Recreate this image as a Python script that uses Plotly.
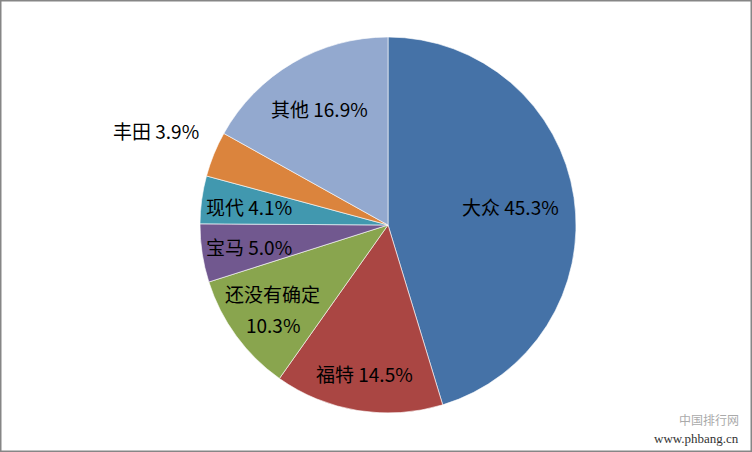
import math
import plotly.graph_objects as go

labels = ["大众", "福特", "还没有确定", "宝马", "现代", "丰田", "其他"]
values = [45.3, 14.5, 10.3, 5.0, 4.1, 3.9, 16.9]
colors = ["#4572A7", "#AA4643", "#89A54E", "#71588F", "#4198AF", "#DB843D", "#93A9CF"]
label_texts = ["大众 45.3%", "福特 14.5%", "还没有确定<br>10.3%", "宝马 5.0%", "现代 4.1%", "丰田 3.9%", "其他 16.9%"]
label_radius = [0.66, 0.80, 0.76, 0.75, 0.745, 1.33, 0.72]

W, H = 752, 452
cx, cy, R = 388, 225, 188  # pixels, from top-left
LINE_GAP = 31

fig = go.Figure(go.Pie(
    labels=labels, values=values, sort=False, direction="clockwise", rotation=0,
    marker=dict(colors=colors, line=dict(color="rgba(255,255,255,0.6)", width=1)),
    textinfo="none", hoverinfo="label+percent", showlegend=False,
    domain=dict(x=[(cx - R) / W, (cx + R) / W], y=[(H - cy - R) / H, (H - cy + R) / H]),
))

total = sum(values)
cum = 0
for txt, v, rf in zip(label_texts, values, label_radius):
    mid = (cum + v / 2) / total * 2 * math.pi
    cum += v
    px = cx + rf * R * math.sin(mid)
    py = cy - rf * R * math.cos(mid)
    lines = txt.split("<br>")
    n = len(lines)
    for i, ln in enumerate(lines):
        ly = py + (i - (n - 1) / 2) * LINE_GAP
        fig.add_annotation(x=px / W, y=1 - ly / H, xref="paper", yref="paper", text=ln,
                           showarrow=False, font=dict(family="Noto Sans CJK SC", size=19, color="#000000"),
                           xanchor="center", yanchor="middle")

fig.add_annotation(x=0.985, y=0.071, xref="paper", yref="paper", text="中国排行网",
                   showarrow=False, font=dict(family="Noto Sans CJK SC", size=12, color="#aaaaaa"),
                   xanchor="right", yanchor="middle")
fig.add_annotation(x=0.985, y=0.030, xref="paper", yref="paper", text="www.phbang.cn",
                   showarrow=False, font=dict(family="Liberation Serif", size=13, color="#333333"),
                   xanchor="right", yanchor="middle")

fig.add_shape(type="rect", xref="paper", yref="paper", x0=0, y0=0, x1=1, y1=1,
              line=dict(color="#868686", width=3))

fig.update_layout(width=W, height=H, margin=dict(l=0, r=0, t=0, b=0),
                  paper_bgcolor="white", plot_bgcolor="white")
fig.write_html("out.html", config={"displayModeBar": False},
               post_script="document.body.style.margin='0';document.body.style.overflow='hidden';")
